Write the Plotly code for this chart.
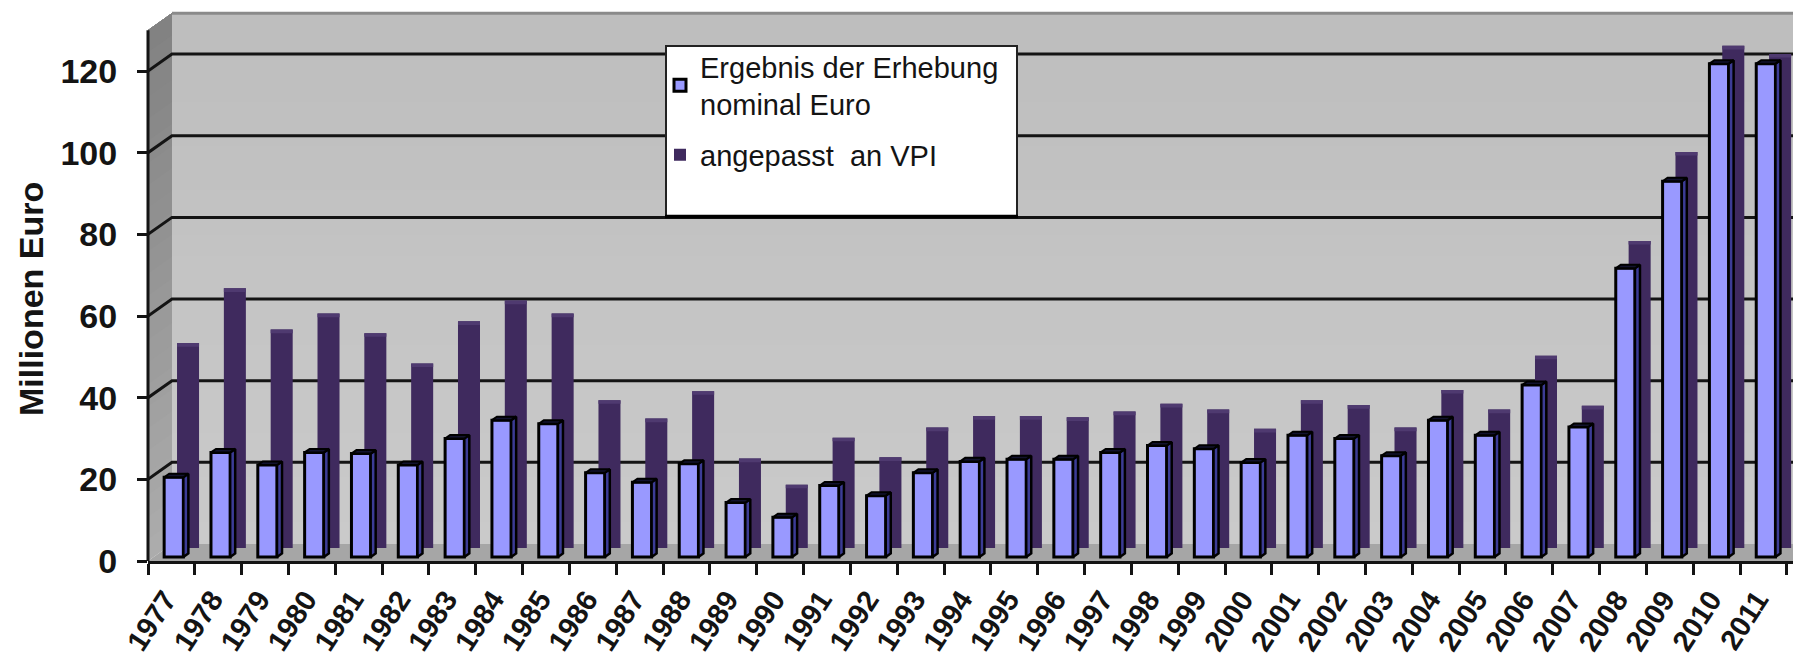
import plotly.graph_objects as go

years = list(range(1977, 2012))
nominal = [19.5, 25.6, 22.5, 25.6, 25.3, 22.5, 29.0, 33.5, 32.6, 20.6, 18.3, 22.8, 13.3, 9.7, 17.5,
           15.0, 20.6, 23.4, 23.9, 23.9, 25.6, 27.3, 26.5, 23.1, 29.8, 29.0, 24.8, 33.5, 29.8, 42.1,
           31.8, 70.7, 92.0, 120.8, 120.8]
adjusted = [50.2, 63.6, 53.5, 57.4, 52.6, 45.2, 55.5, 60.6, 57.4, 36.2, 31.7, 38.4, 21.9, 15.5, 27.0,
            22.2, 29.5, 32.3, 32.3, 32.0, 33.4, 35.3, 33.9, 29.2, 36.2, 35.0, 29.5, 38.7, 33.9, 47.1,
            34.8, 75.2, 97.0, 123.0, 121.0]
y_ticks = [0, 20, 40, 60, 80, 100, 120]
series_names = ["Ergebnis der Erhebung<br>nominal Euro", "angepasst  an VPI"]

W, H = 1793, 657
X0, X1 = 1976.5, 2011.63
Y_TOP = 137.4
WALL_DX, WALL_DY = 0.5125, 4.16      # depth of the chart box, axis units
WALL_TOP = 130
FRONT_BASE, REAR_BASE = 1.0, 3.2
BAR_DX, BAR_DY = 0.107, 0.86         # depth of a front bar
FRONT_L, FRONT_R = -0.155, 0.255
REAR_L, REAR_R = 0.12, 0.59
REAR_CAP = 0.9

INK = "#141414"
shapes = []


def lerp_grey(a, b, t):
    v = round(a + (b - a) * t)
    return f"rgb({v},{v},{v})"


# back wall, painted in overlapping bands for a faint gradient
BANDS = 24
for k in range(BANDS):
    t = k / BANDS
    lo = WALL_DY + (WALL_TOP) * t
    shapes.append(dict(type="rect", xref="x", yref="y", x0=X0 + WALL_DX, x1=X1, y0=lo, y1=WALL_TOP + WALL_DY,
                       fillcolor=lerp_grey(202, 189, t), line_width=0, layer="below"))
# side wall
for k in range(BANDS):
    t = k / BANDS
    lo = WALL_TOP * t
    path = (f"M {X0} {lo} L {X0 + WALL_DX} {lo + WALL_DY} L {X0 + WALL_DX} {WALL_TOP + WALL_DY} "
            f"L {X0} {WALL_TOP} Z")
    shapes.append(dict(type="path", xref="x", yref="y", path=path, fillcolor=lerp_grey(172, 128, t),
                       line_width=0, layer="below"))
# floor
shapes.append(dict(type="path", xref="x", yref="y",
                   path=f"M {X0} 0 L {X0 + WALL_DX} {WALL_DY} L {X1} {WALL_DY} L {X1} 0 Z",
                   fillcolor="#a6a6a6", line_width=0, layer="below"))
# top edge of the wall
shapes.append(dict(type="line", xref="x", yref="y", x0=X0 + WALL_DX, x1=X1, y0=WALL_TOP + WALL_DY,
                   y1=WALL_TOP + WALL_DY, line=dict(color="#8a8a8a", width=3), layer="below"))
# gridlines
for v in y_ticks[1:]:
    path = f"M {X0} {v} L {X0 + WALL_DX} {v + WALL_DY} L {X1} {v + WALL_DY}"
    shapes.append(dict(type="path", xref="x", yref="y", path=path, line=dict(color=INK, width=3), layer="below"))
# value axis line
shapes.append(dict(type="line", xref="paper", yref="y", x0=0, x1=0, y0=0, y1=WALL_TOP,
                   line=dict(color=INK, width=3), layer="above"))


def px(x):
    return (x - 148) / (W - 148)


def py(y):
    return (561 - y) / 561


# legend box
shapes.append(dict(type="rect", xref="paper", yref="paper", x0=px(666), x1=px(1017), y0=py(216), y1=py(46),
                   fillcolor="white", line=dict(color="#222222", width=2), layer="above"))
shapes.append(dict(type="line", xref="paper", yref="paper", x0=px(665), x1=px(1018), y0=py(216.5), y1=py(216.5),
                   line=dict(color="black", width=3.5), layer="above"))

side_x, side_y, top_x, top_y, cap_x, cap_y = [], [], [], [], [], []
for yr, v in zip(years, nominal):
    xl, xr = yr + FRONT_L, yr + FRONT_R
    top = FRONT_BASE + v
    side_x += [xr, xr + BAR_DX, xr + BAR_DX, xr, xr, None]
    side_y += [FRONT_BASE, FRONT_BASE + BAR_DY, top + BAR_DY, top, FRONT_BASE, None]
    top_x += [xl, xl + BAR_DX, xr + BAR_DX, xr, xl, None]
    top_y += [top, top + BAR_DY, top + BAR_DY, top, top, None]
for yr, v in zip(years, adjusted):
    xl, xr = yr + REAR_L, yr + REAR_R
    top = REAR_BASE + v
    cap_x += [xl, xr, xr, xl, xl, None]
    cap_y += [top - REAR_CAP, top - REAR_CAP, top, top, top - REAR_CAP, None]

fig = go.Figure()
fig.add_bar(x=years, y=adjusted, base=REAR_BASE, width=REAR_R - REAR_L, offset=REAR_L,
            name=series_names[1], legendrank=2, legendgroup="b", marker=dict(color="#3f2a5e", line_width=0))
fig.add_bar(x=years, y=nominal, base=FRONT_BASE, width=FRONT_R - FRONT_L, offset=FRONT_L,
            name=series_names[0], legendrank=1, legendgroup="a",
            marker=dict(color="#9999ff", line=dict(color="black", width=3)))
fig.add_scatter(x=cap_x, y=cap_y, mode="lines", fill="toself", fillcolor="#4f3a70",
                line=dict(color="#4f3a70", width=0), showlegend=False, hoverinfo="skip")
fig.add_scatter(x=side_x, y=side_y, mode="lines", fill="toself", fillcolor="#3c3c96",
                line=dict(color="black", width=2.5), showlegend=False, hoverinfo="skip")
fig.add_scatter(x=top_x, y=top_y, mode="lines", fill="toself", fillcolor="#12122e",
                line=dict(color="black", width=2), showlegend=False, hoverinfo="skip")

fig.update_layout(
    width=W, height=H, margin=dict(l=148, r=0, t=0, b=96, autoexpand=False),
    paper_bgcolor="white", plot_bgcolor="white", barmode="overlay", shapes=shapes,
    font=dict(family="Liberation Sans", color=INK),
    legend=dict(x=px(660), y=py(41), xanchor="left", yanchor="top", bgcolor="rgba(0,0,0,0)",
                font=dict(size=29, color=INK), traceorder="grouped", tracegroupgap=10),
    xaxis=dict(range=[X0, X1], tickmode="array", tickvals=years, ticktext=[str(y) for y in years],
               tickangle=-57, ticks="", showgrid=False, zeroline=False, showline=True, linecolor=INK, linewidth=3,
               ticklabelstandoff=7, ticklabelshift=-6,
               tickfont=dict(size=29, family="Liberation Sans", color=INK, weight="bold"),
               minor=dict(tickmode="array", tickvals=[y - 0.5 for y in years + [2012]], ticks="outside",
                          ticklen=11, tickwidth=2.5, tickcolor=INK, showgrid=False)),
    yaxis=dict(range=[0, Y_TOP], tickmode="array", tickvals=y_ticks, ticks="outside", ticklen=10, tickwidth=3,
               tickcolor=INK, showgrid=False, zeroline=False, showline=False, ticklabelstandoff=13,
               tickfont=dict(size=34, family="Liberation Sans", color=INK, weight="bold")),
    annotations=[dict(text="Millionen Euro", xref="paper", yref="paper", x=px(31), y=py(299), textangle=-90,
                      showarrow=False, xanchor="center", yanchor="middle",
                      font=dict(size=34, family="Liberation Sans", color=INK, weight="bold"))],
)
fig.write_html("out.html", config={"displayModeBar": False},
               post_script="document.body.style.margin='0';document.body.style.overflow='hidden';")
